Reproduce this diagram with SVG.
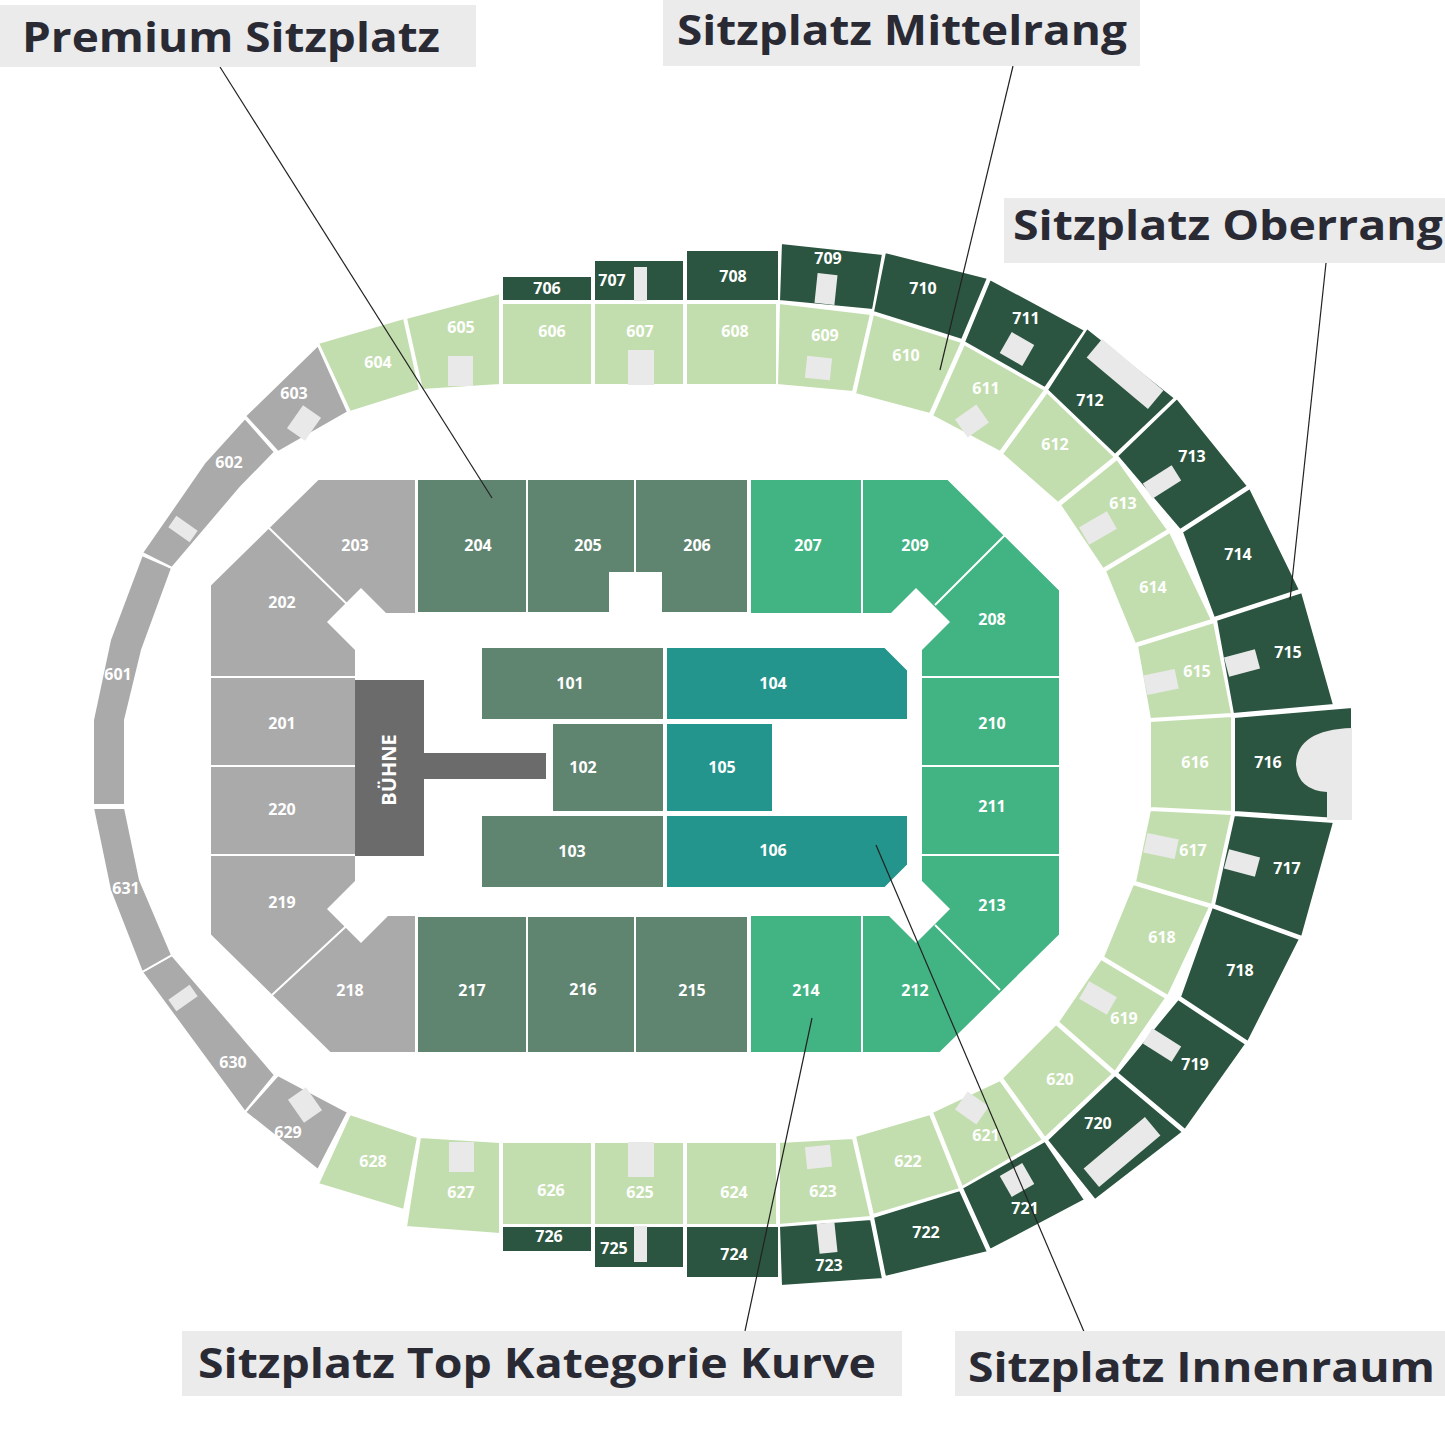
<svg xmlns="http://www.w3.org/2000/svg" width="1445" height="1445" viewBox="0 0 1445 1445">
<style>
.lg{fill:#c3deae;stroke:#fff;stroke-width:2}
.dg{fill:#2b5540;stroke:#fff;stroke-width:2}
.gr{fill:#aaaaaa;stroke:#fff;stroke-width:2}
.mg{fill:#5f8470;stroke:#fff;stroke-width:2}
.bg{fill:#42b383;stroke:#fff;stroke-width:2}
.tl{fill:#23958c;stroke:#fff;stroke-width:2}
.wr{fill:#e9e9e9}
.div{stroke:#fff;stroke-width:2;fill:none}
text.s{font-family:"Open Sans","DejaVu Sans",sans-serif;font-weight:700;font-size:16px;fill:#fff;text-anchor:middle;dominant-baseline:middle}
.box{fill:#ebebeb}
text.c{font-family:"Open Sans","DejaVu Sans",sans-serif;font-weight:700;font-size:42px;fill:#2a2a35}
.ln{stroke:#222;stroke-width:1.2;fill:none}
</style>
<rect width="1445" height="1445" fill="#fff"/>
<g id="ring700">
<g id="s706"><polygon class="dg" points="502,276 592,276 592,301 502,301"/><text class="s" x="547" y="290">706</text></g>
<g id="s707"><polygon class="dg" points="594,260 684,260 684,301 594,301"/><rect class="wr" x="634" y="267" width="13" height="34"/><text class="s" x="612" y="282">707</text></g>
<g id="s708"><polygon class="dg" points="686,250 779,250 779,301 686,301"/><text class="s" x="733" y="278">708</text></g>
<g id="s709"><polygon class="dg" points="781,243 883,254 873,310 779,301"/><rect class="wr" x="816" y="274" width="20" height="30" transform="rotate(6 826 289)"/><text class="s" x="828" y="260">709</text></g>
<g id="s710"><polygon class="dg" points="885,252 988,278 962,340 873,312"/><text class="s" x="923" y="290">710</text></g>
<g id="s711"><polygon class="dg" points="990,279 1085,330 1045,388 964,342"/><rect class="wr" x="1004" y="337" width="26" height="24" transform="rotate(30 1017 349)"/><text class="s" x="1026" y="320">711</text></g>
<g id="s712"><polygon class="dg" points="1087,328 1175,398 1115,455 1047,390"/><rect class="wr" x="1085" y="362" width="80" height="24" transform="rotate(40 1125 374)"/><text class="s" x="1090" y="402">712</text></g>
<g id="s713"><polygon class="dg" points="1177,398 1248,486 1180,530 1117,456"/><rect class="wr" x="1145" y="473" width="34" height="18" transform="rotate(-32 1162 482)"/><text class="s" x="1192" y="458">713</text></g>
<g id="s714"><polygon class="dg" points="1250,488 1300,590 1214,618 1182,532"/><text class="s" x="1238" y="556">714</text></g>
<g id="s715"><polygon class="dg" points="1302,592 1334,705 1233,714 1216,620"/><rect class="wr" x="1226" y="653" width="32" height="20" transform="rotate(-15 1242 663)"/><text class="s" x="1288" y="654">715</text></g>
<g id="s716"><polygon class="dg" points="1234,717 1352,707 1352,820 1234,812"/><path class="wr" d="M1352,728 Q1296,730 1296,765 Q1298,790 1327,792 L1327,820 L1352,820 Z"/><text class="s" x="1268" y="764">716</text></g>
<g id="s717"><polygon class="dg" points="1234,815 1334,822 1302,937 1214,905"/><rect class="wr" x="1226" y="853" width="32" height="20" transform="rotate(15 1242 863)"/><text class="s" x="1287" y="870">717</text></g>
<g id="s718"><polygon class="dg" points="1212,907 1300,939 1248,1042 1180,997"/><text class="s" x="1240" y="972">718</text></g>
<g id="s719"><polygon class="dg" points="1178,999 1246,1044 1185,1130 1117,1073"/><rect class="wr" x="1145" y="1036" width="34" height="18" transform="rotate(32 1162 1045)"/><text class="s" x="1195" y="1066">719</text></g>
<g id="s720"><polygon class="dg" points="1115,1075 1183,1132 1095,1200 1047,1140"/><rect class="wr" x="1082" y="1140" width="80" height="24" transform="rotate(-40 1122 1152)"/><text class="s" x="1098" y="1125">720</text></g>
<g id="s721"><polygon class="dg" points="1045,1141 1085,1200 990,1250 962,1188"/><rect class="wr" x="1004" y="1168" width="26" height="24" transform="rotate(-30 1017 1180)"/><text class="s" x="1025" y="1210">721</text></g>
<g id="s722"><polygon class="dg" points="960,1190 988,1252 885,1277 873,1217"/><text class="s" x="926" y="1234">722</text></g>
<g id="s723"><polygon class="dg" points="871,1219 883,1279 781,1286 779,1226"/><rect class="wr" x="818" y="1223" width="18" height="30" transform="rotate(-6 827 1238)"/><text class="s" x="829" y="1267">723</text></g>
<g id="s724"><polygon class="dg" points="686,1226 779,1226 779,1278 686,1278"/><text class="s" x="734" y="1256">724</text></g>
<g id="s725"><polygon class="dg" points="594,1226 684,1226 684,1268 594,1268"/><rect class="wr" x="634" y="1226" width="13" height="36"/><text class="s" x="614" y="1250">725</text></g>
<g id="s726"><polygon class="dg" points="502,1226 592,1226 592,1252 502,1252"/><text class="s" x="549" y="1238">726</text></g>
</g>
<g id="ring600">
<g id="s601"><polygon class="gr" points="93,805 93,720 110,640 142,555 172,568 142,650 125,720 125,805"/><text class="s" x="118" y="676">601</text></g>
<g id="s602"><polygon class="gr" points="142,553 205,462 245,418 275,452 240,488 172,568"/><rect class="wr" x="170" y="522" width="26" height="14" transform="rotate(35 183 529)"/><text class="s" x="229" y="464">602</text></g>
<g id="s603"><polygon class="gr" points="245,416 318,345 348,412 278,452"/><rect class="wr" x="290" y="412" width="28" height="22" transform="rotate(-55 304 423)"/><text class="s" x="294" y="395">603</text></g>
<g id="s604"><polygon class="lg" points="318,343 404,318 420,390 350,412"/><text class="s" x="378" y="364">604</text></g>
<g id="s605"><polygon class="lg" points="406,318 500,293 500,385 422,390"/><rect class="wr" x="448" y="356" width="25" height="30"/><text class="s" x="461" y="329">605</text></g>
<g id="s606"><polygon class="lg" points="502,303 592,303 592,385 502,385"/><text class="s" x="552" y="333">606</text></g>
<g id="s607"><polygon class="lg" points="594,303 684,303 684,385 594,385"/><rect class="wr" x="628" y="350" width="26" height="35"/><text class="s" x="640" y="333">607</text></g>
<g id="s608"><polygon class="lg" points="686,303 777,303 777,385 686,385"/><text class="s" x="735" y="333">608</text></g>
<g id="s609"><polygon class="lg" points="779,303 871,314 853,392 777,385"/><rect class="wr" x="806" y="357" width="25" height="22" transform="rotate(6 818 368)"/><text class="s" x="825" y="337">609</text></g>
<g id="s610"><polygon class="lg" points="873,314 962,342 930,414 855,394"/><text class="s" x="906" y="357">610</text></g>
<g id="s611"><polygon class="lg" points="964,344 1045,390 1000,452 932,416"/><rect class="wr" x="959" y="410" width="26" height="22" transform="rotate(-35 972 421)"/><text class="s" x="986" y="390">611</text></g>
<g id="s612"><polygon class="lg" points="1047,392 1115,457 1058,503 1002,454"/><text class="s" x="1055" y="446">612</text></g>
<g id="s613"><polygon class="lg" points="1117,459 1168,530 1103,569 1060,505"/><rect class="wr" x="1082" y="518" width="32" height="20" transform="rotate(-30 1098 528)"/><text class="s" x="1123" y="505">613</text></g>
<g id="s614"><polygon class="lg" points="1170,532 1212,620 1135,644 1105,571"/><text class="s" x="1153" y="589">614</text></g>
<g id="s615"><polygon class="lg" points="1214,622 1232,714 1150,719 1137,646"/><rect class="wr" x="1145" y="672" width="32" height="20" transform="rotate(-12 1161 682)"/><text class="s" x="1197" y="673">615</text></g>
<g id="s616"><polygon class="lg" points="1150,721 1232,716 1232,812 1150,808"/><text class="s" x="1195" y="764">616</text></g>
<g id="s617"><polygon class="lg" points="1150,810 1232,814 1212,905 1135,882"/><rect class="wr" x="1145" y="836" width="32" height="20" transform="rotate(12 1161 846)"/><text class="s" x="1193" y="852">617</text></g>
<g id="s618"><polygon class="lg" points="1133,884 1210,907 1168,996 1103,957"/><text class="s" x="1162" y="939">618</text></g>
<g id="s619"><polygon class="lg" points="1101,959 1166,998 1115,1072 1058,1022"/><rect class="wr" x="1082" y="988" width="32" height="20" transform="rotate(30 1098 998)"/><text class="s" x="1124" y="1020">619</text></g>
<g id="s620"><polygon class="lg" points="1056,1024 1113,1074 1045,1138 1002,1078"/><text class="s" x="1060" y="1081">620</text></g>
<g id="s621"><polygon class="lg" points="1000,1080 1043,1140 962,1187 932,1112"/><rect class="wr" x="959" y="1097" width="26" height="22" transform="rotate(35 972 1108)"/><text class="s" x="986" y="1137">621</text></g>
<g id="s622"><polygon class="lg" points="930,1114 960,1189 873,1215 855,1136"/><text class="s" x="908" y="1163">622</text></g>
<g id="s623"><polygon class="lg" points="853,1138 871,1217 779,1225 779,1142"/><rect class="wr" x="806" y="1146" width="25" height="22" transform="rotate(-6 818 1157)"/><text class="s" x="823" y="1193">623</text></g>
<g id="s624"><polygon class="lg" points="686,1142 777,1142 777,1225 686,1225"/><text class="s" x="734" y="1194">624</text></g>
<g id="s625"><polygon class="lg" points="594,1142 684,1142 684,1225 594,1225"/><rect class="wr" x="628" y="1142" width="26" height="35"/><text class="s" x="640" y="1194">625</text></g>
<g id="s626"><polygon class="lg" points="502,1142 592,1142 592,1225 502,1225"/><text class="s" x="551" y="1192">626</text></g>
<g id="s627"><polygon class="lg" points="420,1137 500,1142 500,1234 406,1227"/><rect class="wr" x="449" y="1142" width="25" height="30"/><text class="s" x="461" y="1194">627</text></g>
<g id="s628"><polygon class="lg" points="350,1114 418,1137 404,1210 318,1184"/><text class="s" x="373" y="1163">628</text></g>
<g id="s629"><polygon class="gr" points="245,1112 278,1075 348,1112 318,1170"/><rect class="wr" x="291" y="1094" width="28" height="22" transform="rotate(55 305 1105)"/><text class="s" x="288" y="1134">629</text></g>
<g id="s630"><polygon class="gr" points="142,972 172,955 275,1075 245,1112"/><rect class="wr" x="170" y="991" width="26" height="14" transform="rotate(-35 183 998)"/><text class="s" x="233" y="1064">630</text></g>
<g id="s631"><polygon class="gr" points="93,808 125,808 140,880 172,955 142,972 110,890"/><text class="s" x="126" y="890">631</text></g>
</g>
<g id="level200">
<polygon class="gr" points="318,479 416,479 416,1053 330,1053 210,935 210,585"/>
<polygon class="mg" points="417,479 748,479 748,613 417,613"/>
<polygon class="mg" points="417,916 748,916 748,1053 417,1053"/>
<polygon class="bg" points="750,479 948,479 1060,590 1060,935 940,1053 750,1053"/>
<path class="div" d="M268,527 L355,612 M210,677 H355 M210,766 H355 M210,855 H355 M272,995 L355,918 M527,479 V613 M635,479 V613 M527,916 V1053 M635,916 V1053 M862,479 V613 M1005,535 L935,605 M922,677 H1060 M922,766 H1060 M922,855 H1060 M935,925 L1000,990 M862,916 V1053"/>
<g id="field"><polygon fill="#fff" points="355,613 922,613 922,916 355,916"/>
<polygon fill="#fff" points="361,588 395,622 361,656 327,622"/>
<polygon fill="#fff" points="916,588 950,622 916,656 882,622"/>
<polygon fill="#fff" points="361,875 395,909 361,943 327,909"/>
<polygon fill="#fff" points="916,875 950,909 916,943 882,909"/>
<rect fill="#fff" x="609" y="572" width="53" height="42"/></g>
<text class="s" x="282" y="604">202</text><text class="s" x="355" y="547">203</text>
<text class="s" x="282" y="725">201</text><text class="s" x="282" y="811">220</text>
<text class="s" x="282" y="904">219</text><text class="s" x="350" y="992">218</text>
<text class="s" x="478" y="547">204</text><text class="s" x="588" y="547">205</text><text class="s" x="697" y="547">206</text>
<text class="s" x="808" y="547">207</text><text class="s" x="915" y="547">209</text><text class="s" x="992" y="621">208</text>
<text class="s" x="992" y="725">210</text><text class="s" x="992" y="808">211</text><text class="s" x="992" y="907">213</text>
<text class="s" x="472" y="992">217</text><text class="s" x="583" y="991">216</text><text class="s" x="692" y="992">215</text>
<text class="s" x="806" y="992">214</text><text class="s" x="915" y="992">212</text>
</g>
<g id="level100">
<g id="s101"><rect class="mg" x="481" y="647" width="183" height="73"/><text class="s" x="570" y="685">101</text></g>
<g id="s104"><polygon class="tl" points="666,647 885,647 908,670 908,720 666,720"/><text class="s" x="773" y="685">104</text></g>
<g id="s102"><rect class="mg" x="552" y="723" width="112" height="89"/><text class="s" x="583" y="769">102</text></g>
<g id="s105"><rect class="tl" x="666" y="723" width="107" height="89"/><text class="s" x="722" y="769">105</text></g>
<g id="s103"><rect class="mg" x="481" y="815" width="183" height="73"/><text class="s" x="572" y="853">103</text></g>
<g id="s106"><polygon class="tl" points="666,815 908,815 908,865 885,888 666,888"/><text class="s" x="773" y="852">106</text></g>
</g>
<g id="stage"><rect x="355" y="680" width="69" height="176" fill="#6b6b6b"/><rect x="424" y="753" width="122" height="26" fill="#6b6b6b"/>
<text class="s" x="391" y="770" font-size="20" transform="rotate(-90 391 770)" style="font-size:20px">BÜHNE</text></g>
<g id="connectors">
<line class="ln" x1="220" y1="67" x2="492" y2="498"/>
<line class="ln" x1="1013" y1="66" x2="940" y2="370"/>
<line class="ln" x1="1326" y1="263" x2="1290" y2="600"/>
<line class="ln" x1="745" y1="1331" x2="812" y2="1018"/>
<line class="ln" x1="1088" y1="1341" x2="876" y2="845"/>
</g>
<g id="callouts">
<g id="c1"><rect class="box" x="0" y="5" width="476" height="62"/><text class="c" x="22" y="52" textLength="418" lengthAdjust="spacingAndGlyphs">Premium Sitzplatz</text></g>
<g id="c2"><rect class="box" x="663" y="0" width="477" height="66"/><text class="c" x="677" y="45" textLength="450" lengthAdjust="spacingAndGlyphs">Sitzplatz Mittelrang</text></g>
<g id="c3"><rect class="box" x="1004" y="198" width="441" height="65"/><text class="c" x="1013" y="240" textLength="430" lengthAdjust="spacingAndGlyphs">Sitzplatz Oberrang</text></g>
<g id="c4"><rect class="box" x="182" y="1331" width="720" height="65"/><text class="c" x="198" y="1378" textLength="678" lengthAdjust="spacingAndGlyphs">Sitzplatz Top Kategorie Kurve</text></g>
<g id="c5"><rect class="box" x="955" y="1331" width="490" height="65"/><text class="c" x="968" y="1382" textLength="467" lengthAdjust="spacingAndGlyphs">Sitzplatz Innenraum</text></g>
</g>
</svg>
